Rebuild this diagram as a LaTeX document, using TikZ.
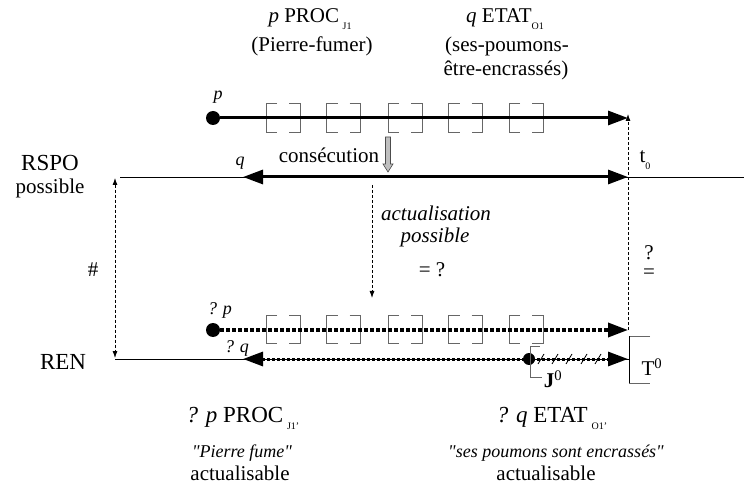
\documentclass[tikz,border=0pt]{standalone}
\usepackage{fontspec}
\setmainfont{Liberation Serif}
\usetikzlibrary{arrows.meta}

\newcommand\lowidx[1]{\raisebox{-0.3em}{\fontsize{10}{10}\selectfont #1}}

\begin{document}
\begin{tikzpicture}[x=1pt,y=-1pt,
  txt/.style={font=\fontsize{21}{24}\selectfont, inner sep=0pt},
  bigtxt/.style={font=\fontsize{23}{26}\selectfont, inner sep=0pt},
  ittxt/.style={font=\fontsize{21}{24}\selectfont\itshape, inner sep=0pt},
  smalltxt/.style={font=\fontsize{18}{21}\selectfont\itshape, inner sep=0pt},
  dot/.style={circle, fill, inner sep=0pt, minimum size=14pt},
  smalldot/.style={circle, fill, inner sep=0pt, minimum size=12pt},
  fatarrow/.style={line width=3pt, -{Triangle[length=20pt,width=14pt]}},
  fatboth/.style={line width=3pt, {Triangle[length=20pt,width=14pt]}-{Triangle[length=20pt,width=14pt]}},
  dotarrow/.style={line width=3.5pt, dash pattern=on 3.5pt off 2.5pt, -{Triangle[length=20pt,width=14pt]}},
  dotboth/.style={line width=3pt, dash pattern=on 3pt off 2pt, {Triangle[length=20pt,width=14pt]}-{Triangle[length=20pt,width=14pt]}},
  dashedarrow/.style={line width=0.8pt, dash pattern=on 3pt off 2pt, -{Latex[length=7pt,width=5pt]}},
  dashedboth/.style={line width=0.8pt, dash pattern=on 3pt off 2pt, {Latex[length=7pt,width=5pt]}-{Latex[length=7pt,width=5pt]}},
  axis/.style={line width=0.9pt},
  boxline/.style={draw=black!60, line width=0.9pt}
]
\useasboundingbox (0,0) rectangle (744,486);

% headings
\node[txt] (proc) at (310,19) {\textit{p} PROC\,\lowidx{J1}};
\node[txt] (procgl) at (312,46) {(Pierre-fumer)};
\node[txt] (etat) at (505,19) {\textit{q} ETAT\lowidx{O1}};
\node[txt] (etatgl1) at (507,46) {(ses-poumons-};
\node[txt] (etatgl2) at (506,70) {être-encrassés)};

% upper level
\node[dot] (p1) at (213,118) {};
\node[smalltxt] (plbl) at (218,97) {p};
\coordinate (p1tip) at (628,118);
\foreach \cx in {283,343.5,405,465.5,526}{
  \draw[boxline] (\cx-6,103) -| (\cx-17,132) -- (\cx-6,132);
  \draw[boxline] (\cx+6,103) -| (\cx+17,132) -- (\cx+6,132);
}
\draw[fatarrow] (p1) -- (p1tip);

\node[bigtxt] (rspo) at (50,163) {RSPO};
\node[txt] (rspop) at (50,188) {possible};
\coordinate (rspoL) at (120,177);
\coordinate (rspoR) at (744,177);
\coordinate (qL) at (243,177);
\coordinate (qR) at (628,177);
\draw[axis] (rspoL) -- (rspoR);
\draw[fatboth] (qL) -- (qR);
\node[smalltxt] (qlbl) at (240,163) {q};
\node[txt] (consec) at (329,155) {consécution};
\draw[fill=black!25, draw=black!70, line width=0.6pt]
  (385.5,137) -- (390.5,137) -- (390.5,164) -- (393,164) -- (388,172)
  -- (383,164) -- (385.5,164) -- cycle;
\node[txt] (t0) at (645,160) {t\lowidx{0}};

% between the levels
\node[txt] (diff) at (93,270) {\#};
\coordinate (hashT) at (115,178);
\coordinate (hashB) at (115,358);
\draw[dashedboth] (hashT) -- (hashB);

\coordinate (actT) at (372,185);
\coordinate (actB) at (372,298);
\draw[dashedarrow] (actT) -- (actB);
\node[ittxt] (actu1) at (436,213) {actualisation};
\node[ittxt] (actu2) at (435,237) {possible};
\node[txt] (actu3) at (432,270) {= ?};

\node[txt, font=\fontsize{21}{19}\selectfont, align=center] (qeq) at (649,262) {?\\=};

% lower level
\node[dot] (p2) at (213,330) {};
\node[smalltxt] (p2lbl) at (220,310) {? p};
\coordinate (p2tip) at (628,330);
\foreach \cx in {283,343.5,405,465.5,526}{
  \draw[boxline] (\cx-6,315) -| (\cx-17,343) -- (\cx-6,343);
  \draw[boxline] (\cx+6,315) -| (\cx+17,343) -- (\cx+6,343);
}
\draw[dotarrow] (p2) -- (p2tip);
\draw[dashedarrow] (p2tip) -- ([yshift=4pt]p1tip);

\node[bigtxt] (ren) at (63,362) {REN};
\coordinate (renL) at (115,359);
\coordinate (renR) at (629,359);
\coordinate (q2L) at (243,359);
\coordinate (q2R) at (628,359);
\draw[axis] (renL) -- (renR);
\draw[dotboth] (q2L) -- (q2R);
\node[smalltxt] (q2lbl) at (237,348) {? q};
\foreach \sx in {541,555,569,584,598}
  \draw[line width=0.8pt] (\sx-3,364) -- (\sx+3,354);
\node[smalldot] (j0) at (529,359) {};
\draw[boxline] (540,346) -- (530,346) -- (530,377) -- (542,377);
\node[txt] (j0lbl) at (553,379) {\textbf{J}\textsuperscript{0}};
\draw[boxline] (650,336) -- (629,336);
\draw[boxline] (629,383) -- (650,383);
\draw[axis] (629,336) -- (629,383);
\node[txt] (t0big) at (652,367) {T\textsuperscript{0}};

% glosses
\node[bigtxt] (procb) at (243,418) {\textit{? p} PROC\,\lowidx{J1'}};
\node[smalltxt] (procbgl) at (242,453) {\textquotedbl Pierre fume\textquotedbl};
\node[txt] (procbac) at (240,473) {actualisable};
\node[bigtxt] (etatb) at (552,418) {\textit{? q} ETAT\,\lowidx{O1'}};
\node[smalltxt] (etatbgl) at (556,453) {\textquotedbl ses poumons sont encrassés\textquotedbl};
\node[txt] (etatbac) at (546,473) {actualisable};
\end{tikzpicture}
\end{document}
